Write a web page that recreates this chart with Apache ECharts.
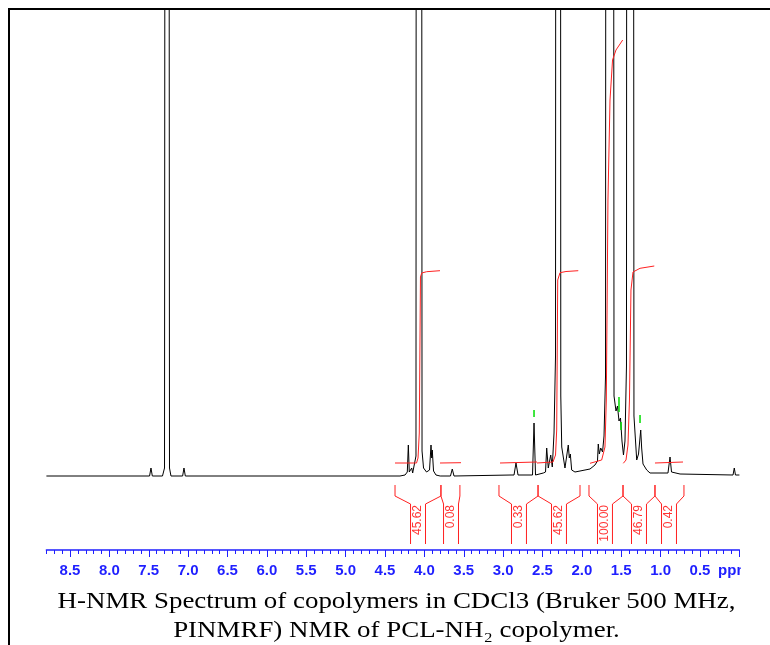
<!DOCTYPE html>
<html><head><meta charset="utf-8">
<script src="https://cdn.jsdelivr.net/npm/echarts@6/dist/echarts.min.js"></script>
<style>
html,body{margin:0;padding:0;background:#fff;width:770px;height:645px;overflow:hidden;}
#frame{position:absolute;left:8px;top:8px;width:762px;height:637px;border-left:2px solid #000;border-top:2px solid #000;box-sizing:border-box;}
#chart{position:absolute;left:0;top:0;width:741px;height:645px;}
</style></head><body>
<div id="frame"></div><div id="chart"></div>
<script>
// ---- DATA (ppm, intensity) ----
const spectrum = [
 [8.80,0],[7.49,0],[7.472,8],[7.455,0],[7.326,0],[7.300,8],[7.285,2000],[7.252,2000],[7.237,8],[7.218,0],[7.07,0],[7.053,8],[7.036,0],
 [4.310,0],[4.246,1],[4.217,4],[4.204,31],[4.192,4],[4.177,3],[4.161,8],[4.149,3],[4.126,4],[4.107,20],[4.098,2000],[4.043,2000],[4.030,25],[4.011,8],[3.973,4],[3.935,6],[3.916,31],[3.907,18],[3.900,26],[3.884,5],[3.853,1],[3.80,0],
 [3.669,0],[3.646,7],[3.624,0],
 [2.90,1],[2.862,1],[2.837,13],[2.811,1],
 [2.627,1],[2.608,53],[2.589,1],
 [2.490,3],[2.462,4],[2.447,28],[2.427,8],[2.396,21],[2.376,9],[2.354,43],[2.335,120],[2.325,2000],[2.278,2000],[2.268,80],[2.256,29],[2.215,8],[2.173,31],[2.160,18],[2.147,22],[2.130,6],[2.088,4],[2.024,5],
 [1.897,7],[1.834,11],[1.802,15],[1.792,32],[1.779,22],[1.761,28],[1.738,24],[1.719,40],[1.700,100],[1.688,2000],[1.609,2000],[1.592,80],[1.567,65],[1.548,70],[1.529,55],[1.510,58],[1.491,35],[1.472,21],[1.453,35],[1.434,110],[1.423,2000],[1.355,2000],[1.339,60],[1.304,16],[1.281,22],[1.253,46],[1.241,28],[1.224,12],[1.177,6],[1.135,3],
 [0.907,3],[0.881,19],[0.862,4],[0.754,2],[0.081,1],[0.065,8],[0.050,1],[0.0,1]
];
const integralCurves = [
 [[4.373,13],[4.100,13],[4.081,18],[4.065,43],[4.050,199],[4.034,203],[3.971,204.3],[3.802,205.3]],
 [[3.802,13],[3.535,13.3]],
 [[3.040,13],[2.570,14]],
 [[2.570,13],[2.367,14],[2.335,21],[2.320,46],[2.307,196],[2.278,203.3],[2.202,204.5],[2.046,205.3]],
 [[1.897,12.7],[1.749,16],[1.707,29],[1.690,76],[1.669,276],[1.643,376],[1.611,416],[1.567,426],[1.482,436]],
 [[1.474,12.7],[1.440,16],[1.415,31],[1.396,76],[1.377,186],[1.351,204],[1.262,207.7],[1.081,210]],
 [[1.072,13],[0.716,14]]
];
const integralRegions = [[4.373,3.790],[3.790,3.549],[3.053,2.557],[2.557,2.024],[1.910,1.478],[1.478,1.072],[1.072,0.704]];
const integralLabelPpm = [4.081,3.662,2.799,2.291,1.707,1.275,0.894];
const integralValues = ['45.62','0.08','0.33','45.62','100.00','46.79','0.42'];
const peakMarks = [[2.608,59,66],[1.529,64,79],[1.503,46,54],[1.262,53,61]];
const tickValues = [8.5,8.0,7.5,7.0,6.5,6.0,5.5,5.0,4.5,4.0,3.5,3.0,2.5,2.0,1.5,1.0,0.5,0.0];
const labelValues = [8.5,8.0,7.5,7.0,6.5,6.0,5.5,5.0,4.5,4.0,3.5,3.0,2.5,2.0,1.5,1.0,0.5,0.07];
const tickLabels = ['8.5','8.0','7.5','7.0','6.5','6.0','5.5','5.0','4.5','4.0','3.5','3.0','2.5','2.0','1.5','1.0','0.5','ppm'];
const caption1 = 'H-NMR Spectrum of copolymers in CDCl3 (Bruker 500 MHz,';
const caption2 = 'PINMRF) NMR of PCL-NH\u2082 copolymer.';

// ---- STYLE CONSTANTS ----
const BR_TOP=-9, BR_MID1=-20, BR_MID2=-28, BR_BOT=-68, BOX_HALF=0.095, LABEL_Y=-29;
const BLUE='#1f1fff', RED='#ff2020';

const series = [];
series.push({type:'line', data:spectrum, showSymbol:false, symbol:'none', lineStyle:{color:'#000', width:1}, z:2});
integralCurves.forEach(c => series.push({type:'line', data:c, showSymbol:false, symbol:'none', lineStyle:{color:RED, width:1}, z:3}));
integralRegions.forEach((r,i) => {
  const c = integralLabelPpm[i];
  series.push({type:'line', data:[[r[0],BR_TOP],[r[0],BR_MID1],[c+BOX_HALF,BR_MID2],[c+BOX_HALF,BR_BOT]], showSymbol:false, symbol:'none', lineStyle:{color:RED,width:1}, z:3});
  series.push({type:'line', data:[[r[1],BR_TOP],[r[1],BR_MID1],[c-BOX_HALF,BR_MID2],[c-BOX_HALF,BR_BOT]], showSymbol:false, symbol:'none', lineStyle:{color:RED,width:1}, z:3});
});
series.push({type:'scatter', symbolSize:1, itemStyle:{color:'rgba(0,0,0,0)'}, z:4,
  data: integralLabelPpm.map((p,i)=>({name:integralValues[i], value:[p, LABEL_Y]})),
  label:{show:true, position:'inside', rotate:90, align:'right', verticalAlign:'middle', color:'#ff0000', fontSize:12, fontFamily:'Liberation Sans', formatter:p=>p.name}
});
peakMarks.forEach(m => series.push({type:'line', data:[[m[0],m[1]],[m[0],m[2]]], showSymbol:false, symbol:'none', lineStyle:{color:'#00dd00', width:1.5}, z:4}));

const chart = echarts.init(document.getElementById('chart'));
chart.setOption({
  animation:false,
  grid:{left:46.4, width:693, top:10, height:540, containLabel:false, outerBoundsMode:'none'},
  xAxis:[{
    type:'value', min:0, max:8.8, inverse:true, position:'bottom',
    axisLine:{show:true, onZero:false, lineStyle:{color:BLUE, width:1.5}},
    axisTick:{show:true, inside:false, length:7, lineStyle:{color:BLUE, width:1}, customValues:tickValues},
    axisLabel:{show:true, customValues:labelValues, color:BLUE, fontSize:15, fontWeight:'bold', fontFamily:'Liberation Sans', margin:13,
      formatter:v=>{const i=labelValues.findIndex(x=>Math.abs(x-v)<1e-6); return i>=0?tickLabels[i]:'';}},
    splitLine:{show:false}
  },{
    type:'value', min:0, max:8.8, inverse:true, interval:0.1, position:'bottom',
    axisLine:{show:false, onZero:false}, axisTick:{show:true, length:4, lineStyle:{color:BLUE, width:1}}, axisLabel:{show:false}, splitLine:{show:false}
  }],
  yAxis:{type:'value', min:-74, max:466, show:false},
  graphic:[
    {type:'text', x:396.5, y:601.5, scaleX:1.17, style:{text:caption1, fontSize:23, fontFamily:'Liberation Serif', fill:'#000', align:'center', textAlign:'center', verticalAlign:'middle', textVerticalAlign:'middle'}},
    {type:'text', x:396.5, y:630.5, scaleX:1.17, style:{text:caption2, fontSize:23, fontFamily:'Liberation Serif', fill:'#000', align:'center', textAlign:'center', verticalAlign:'middle', textVerticalAlign:'middle'}}
  ],
  series:series
});
</script></body></html>
